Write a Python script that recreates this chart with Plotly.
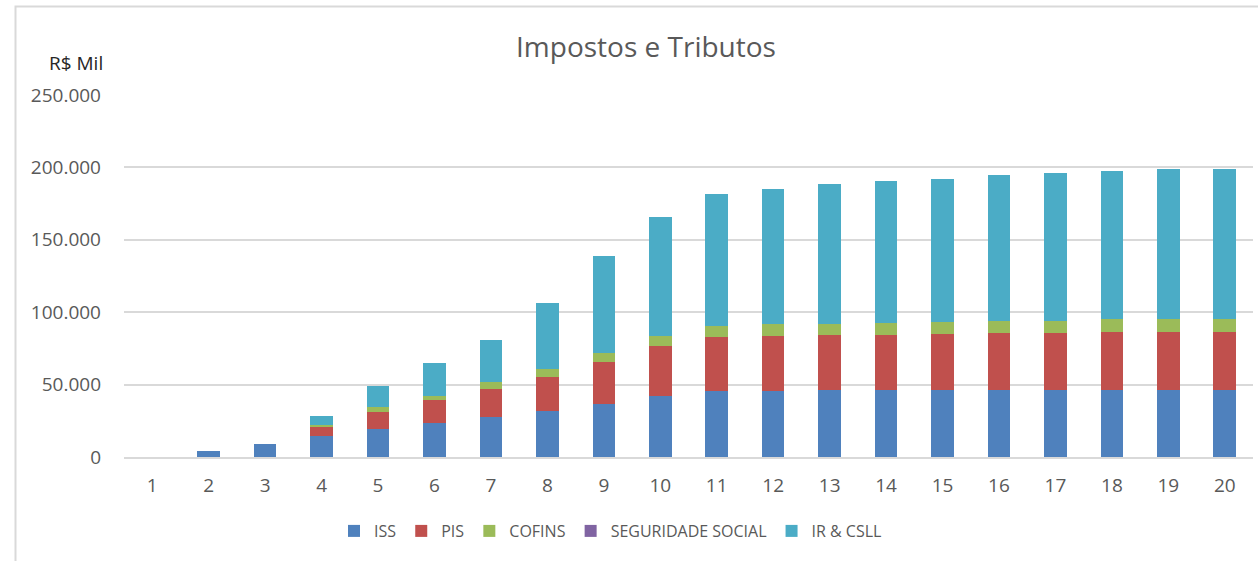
import plotly.graph_objects as go

# ── Data (R$ mil) ────────────────────────────────────────────────────────────

anos = [str(i) for i in range(1, 21)]

iss = [0, 3900, 8800, 14300, 19600, 23500, 27400, 32000, 36800, 42100,
       45300, 45300, 46200, 46200, 46200, 46200, 46200, 46200, 46200, 46200]
pis = [0, 0, 0, 6900, 11700, 15600, 19500, 23500, 28800, 34300,
       37300, 38000, 37800, 37800, 38700, 39400, 39400, 40100, 40100, 40100]
cofins = [0, 0, 0, 900, 3200, 3300, 4600, 5200, 6000, 6900,
          7800, 8500, 7800, 8500, 8500, 8500, 8500, 8700, 8700, 8700]
seguridade = [0] * 20
ir_csll = [0, 0, 0, 6000, 14500, 22200, 29500, 46000, 66900, 82300,
           91500, 93400, 96600, 98200, 98700, 100500, 101900, 102600, 104200, 104200]

y_ticks = [0, 50000, 100000, 150000, 200000, 250000]

# ── Theme ────────────────────────────────────────────────────────────────────

FONT = "Open Sans, sans-serif"
GREY = "#595959"
GRID = "#d9d9d9"

series = [
    ("ISS", iss, "#4F81BD"),
    ("PIS", pis, "#C0504D"),
    ("COFINS", cofins, "#9BBB59"),
    ("SEGURIDADE SOCIAL", seguridade, "#8064A2"),
    ("IR & CSLL", ir_csll, "#4BACC6"),
]

fig = go.Figure()
for name, vals, color in series:
    fig.add_trace(go.Bar(
        x=anos,
        y=vals,
        name=name,
        marker=dict(color=color, line=dict(width=0)),
    ))

# pixel helpers for the plot area (l=124, r=1253, t=95, b=457)
def px_x(p):
    return (p - 124) / 1129


def px_y(p):
    return (457 - p) / 362


fig.update_layout(
    barmode="stack",
    bargap=0.6,
    width=1258,
    height=561,
    paper_bgcolor="white",
    plot_bgcolor="white",
    separators=",.",
    font=dict(family=FONT, color=GREY, size=19),
    margin=dict(l=124, r=5, t=95, b=104),
    title=dict(
        text="Impostos e Tributos",
        x=646 / 1258,
        xanchor="center",
        xref="container",
        y=1 - 47 / 561,
        yanchor="middle",
        yref="container",
        font=dict(size=28, color=GREY, family=FONT),
    ),
    xaxis=dict(
        showgrid=False,
        showline=True,
        linecolor=GRID,
        linewidth=2,
        ticks="",
        ticklabelstandoff=10,
        tickfont=dict(size=19, color=GREY),
        range=[-0.5, 19.5],
    ),
    yaxis=dict(
        range=[0, 250000],
        tickvals=y_ticks,
        tickformat=",.0f",
        showgrid=True,
        gridcolor=GRID,
        gridwidth=2,
        zeroline=False,
        showline=False,
        ticks="",
        ticklabelstandoff=22,
        tickfont=dict(size=19, color=GREY),
    ),
    legend=dict(
        orientation="h",
        x=px_x(334),
        xanchor="left",
        y=px_y(531),
        yanchor="middle",
        font=dict(size=16, color=GREY),
        traceorder="normal",
        itemwidth=30,
    ),
    annotations=[
        dict(
            text="R$ Mil",
            xref="paper", yref="paper",
            x=px_x(105), y=px_y(63),
            xanchor="right", yanchor="middle",
            showarrow=False,
            font=dict(size=19, color="#262626", family=FONT),
        )
    ],
    shapes=[
        dict(
            type="rect",
            xref="paper", yref="paper",
            x0=px_x(15.5), x1=1.2, y0=-0.5, y1=px_y(6.5),
            line=dict(color=GRID, width=2),
            fillcolor="rgba(0,0,0,0)",
            layer="below",
        )
    ],
)

# drop the default page margin so the figure sits at the window origin
fig.write_html(
    "out.html",
    config={"displayModeBar": False},
    post_script="document.body.style.margin='0';",
)
